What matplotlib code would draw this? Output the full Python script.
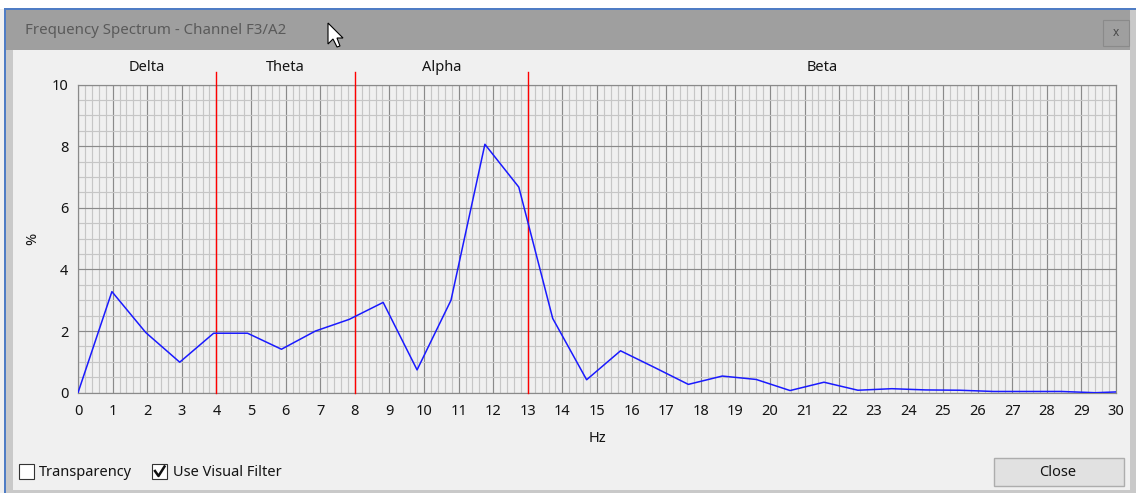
import matplotlib
matplotlib.use("Agg")
import matplotlib.pyplot as plt
from matplotlib.patches import Rectangle, Polygon
from matplotlib.ticker import MultipleLocator

plt.rcParams['font.family'] = ['Noto Sans', 'DejaVu Sans']

# spectrum
freqs = [0.0, 0.98, 1.96, 2.94, 3.92, 4.90, 5.88, 6.86, 7.84, 8.82, 9.80,
         10.78, 11.76, 12.74, 13.72, 14.70, 15.68, 16.66, 17.64, 18.62,
         19.60, 20.58, 21.56, 22.54, 23.52, 24.50, 25.48, 26.46, 27.44,
         28.42, 29.40, 30.38]
percent = [0.0, 3.28, 1.95, 0.99, 1.93, 1.93, 1.41, 2.0, 2.38, 2.93, 0.74,
           3.0, 8.06, 6.67, 2.41, 0.42, 1.36, 0.82, 0.27, 0.54, 0.43, 0.07,
           0.34, 0.08, 0.13, 0.09, 0.08, 0.04, 0.04, 0.04, 0.0, 0.04]

band_names = ["Delta", "Theta", "Alpha", "Beta"]
band_centers = [2, 6, 10.5, 21.5]
band_edges = [4, 8, 13]

x_ticks = list(range(0, 31))
y_ticks = [0, 2, 4, 6, 8, 10]

W, H = 1136, 493
BODY = "#f0f0f0"
INK = "#141414"

fig = plt.figure(figsize=(W / 100, H / 100), dpi=100, facecolor=BODY)

# window chrome drawn in pixel coordinates
bg = fig.add_axes([0, 0, 1, 1])
bg.set_xlim(0, W)
bg.set_ylim(H, 0)
bg.axis("off")


def rect(x, y, w, h, fc, ec="none", lw=0):
    bg.add_patch(Rectangle((x, y), w, h, facecolor=fc, edgecolor=ec, linewidth=lw))


rect(0, 0, W, 9, "white")
rect(4, 8, W - 4, 2, "#4f7cc4")
rect(4, 10, W - 4, 40, "#9f9f9f")
rect(4, 10, 2, H - 10, "#4f7cc4")
rect(6, 50, 7, H - 50, "#c9c9c9")
rect(1130, 10, 6, H - 10, "#c9c9c9")
rect(6, 490, W - 6, 3, "#c9c9c9")
rect(1103, 20, 26, 26, "#9f9f9f", ec="#8a8a8a", lw=0.8)
bg.text(1116, 32, "x", ha="center", va="center", fontsize=8.5, color="#4a4a4a",
        fontweight="bold")
bg.text(25, 30, "Frequency Spectrum - Channel F3/A2", ha="left", va="center",
        fontsize=10.8, color="#5a5a5a")

# mouse pointer
bg.add_patch(Polygon([(328, 23), (328, 44), (333, 39), (337, 47), (340, 46),
                      (337, 38), (343, 38)], closed=True,
                     facecolor="white", edgecolor="black", linewidth=0.8))

# check boxes
rect(19, 464, 15, 15, "white", ec="#333333", lw=0.8)
bg.text(39, 472, "Transparency", ha="left", va="center", fontsize=10.5, color=INK)
rect(152, 464, 15, 15, "white", ec="#333333", lw=0.8)
bg.plot([155, 158.5, 164.5], [471, 476, 466.5], color="#111111", lw=1.8)
bg.text(173, 472, "Use Visual Filter", ha="left", va="center", fontsize=10.5, color=INK)

# close button
rect(994, 458, 130, 28, "#e1e1e1", ec="#adadad", lw=1)
bg.text(1058, 472, "Close", ha="center", va="center", fontsize=10.5, color=INK)

# spectrum plot
left, right, top, bottom = 78, 1116, 84.5, 392.7
ax = fig.add_axes([left / W, (H - bottom) / H, (right - left) / W, (bottom - top) / H])
ax.set_facecolor(BODY)
ax.set_xlim(0, 30)
ax.set_ylim(0, 10)
ax.xaxis.set_minor_locator(MultipleLocator(0.2))
ax.yaxis.set_minor_locator(MultipleLocator(0.5))
ax.set_xticks(x_ticks)
ax.set_yticks(y_ticks)
ax.grid(which="minor", color="#c6c6c6", linewidth=0.85)
ax.grid(which="major", color="#8a8a8a", linewidth=0.85)
ax.set_axisbelow(True)
ax.tick_params(which="both", length=0, labelsize=10.5, labelcolor=INK)
ax.tick_params(axis="x", pad=8)
ax.tick_params(axis="y", pad=7)
for s in ax.spines.values():
    s.set_color("#8a8a8a")
    s.set_linewidth(0.85)

for e in band_edges:
    ax.plot([e, e], [0, 10.42], color="red", lw=1.0, clip_on=False, zorder=3)
for name, c in zip(band_names, band_centers):
    ax.text(c, 10.56, name, ha="center", va="center", fontsize=10.5, color=INK)

ax.plot(freqs, percent, color="#1a1aff", lw=1.1, zorder=4)

ax.set_xlabel("Hz", fontsize=10.5, color=INK, labelpad=9)
ax.set_ylabel("%", fontsize=10.5, color=INK, labelpad=8)

fig.savefig("out.png", dpi=100, facecolor=BODY)
